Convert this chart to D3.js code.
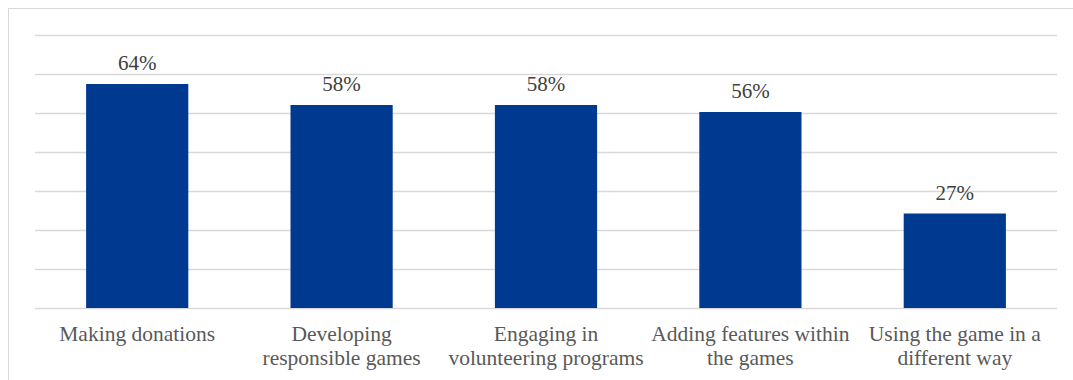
<!DOCTYPE html>
<html>
<head>
<meta charset="utf-8">
<script src="https://cdn.jsdelivr.net/npm/d3@7"></script>
<style>
  html, body { margin: 0; padding: 0; background: #fff; }
  svg { display: block; }
</style>
</head>
<body>
<svg id="chart" width="1073" height="380"></svg>
<script>
// Share of respondents by type of engagement
const categories = [
  "Making donations",
  "Developing responsible games",
  "Engaging in volunteering programs",
  "Adding features within the games",
  "Using the game in a different way"
];
// Category labels as wrapped lines
const categoryLines = [
  ["Making donations"],
  ["Developing", "responsible games"],
  ["Engaging in", "volunteering programs"],
  ["Adding features within", "the games"],
  ["Using the game in a", "different way"]
];
const values = [64, 58, 58, 56, 27];

const svg = d3.select("#chart");
const W = 1073, H = 380;
const margin = { top: 35, right: 16, bottom: 72, left: 35 };
const plotW = W - margin.left - margin.right;
const plotH = H - margin.top - margin.bottom;

// Outer chart frame (extends beyond the right and bottom edges)
svg.append("rect")
  .attr("x", 8.5).attr("y", 8.5)
  .attr("width", 1100).attr("height", 420)
  .attr("fill", "none")
  .attr("stroke", "#d9d9d9")
  .attr("stroke-width", 1);

const g = svg.append("g").attr("transform", `translate(${margin.left},${margin.top})`);

const x = d3.scaleBand().domain(categories).range([0, plotW]).paddingInner(0.5).paddingOuter(0.25);
const yMax = 78;
const y = d3.scaleLinear().domain([0, yMax]).range([plotH, 0]);
const gridTicks = d3.range(0, 8).map(i => i * yMax / 7);

// Horizontal gridlines
g.append("g")
  .selectAll("line")
  .data(gridTicks)
  .join("line")
  .attr("x1", 0).attr("x2", plotW)
  .attr("y1", d => Math.round(y(d)) + 0.5)
  .attr("y2", d => Math.round(y(d)) + 0.5)
  .attr("stroke", "#d9d9d9")
  .attr("stroke-width", 1.3);

// Bars
g.append("g")
  .selectAll("rect")
  .data(values)
  .join("rect")
  .attr("x", (d, i) => x(categories[i]))
  .attr("y", d => y(d))
  .attr("width", x.bandwidth())
  .attr("height", d => plotH - y(d))
  .attr("fill", "#003990");

// Value labels
g.append("g")
  .selectAll("text")
  .data(values)
  .join("text")
  .attr("x", (d, i) => x(categories[i]) + x.bandwidth() / 2)
  .attr("y", d => y(d) - 14)
  .attr("text-anchor", "middle")
  .attr("font-family", "'Liberation Serif', 'Times New Roman', serif")
  .attr("font-size", 21)
  .attr("fill", "#404040")
  .text(d => d + "%");

// Category axis labels
const xAxis = g.append("g").attr("transform", `translate(0,${plotH})`);
categoryLines.forEach((lines, i) => {
  const t = xAxis.append("text")
    .attr("x", x(categories[i]) + x.bandwidth() / 2)
    .attr("y", 33)
    .attr("text-anchor", "middle")
    .attr("font-family", "'Liberation Serif', 'Times New Roman', serif")
    .attr("font-size", 21.5)
    .attr("fill", "#595959");
  lines.forEach((ln, j) => {
    t.append("tspan")
      .attr("x", x(categories[i]) + x.bandwidth() / 2)
      .attr("dy", j === 0 ? 0 : 24)
      .text(ln);
  });
});
</script>
</body>
</html>
